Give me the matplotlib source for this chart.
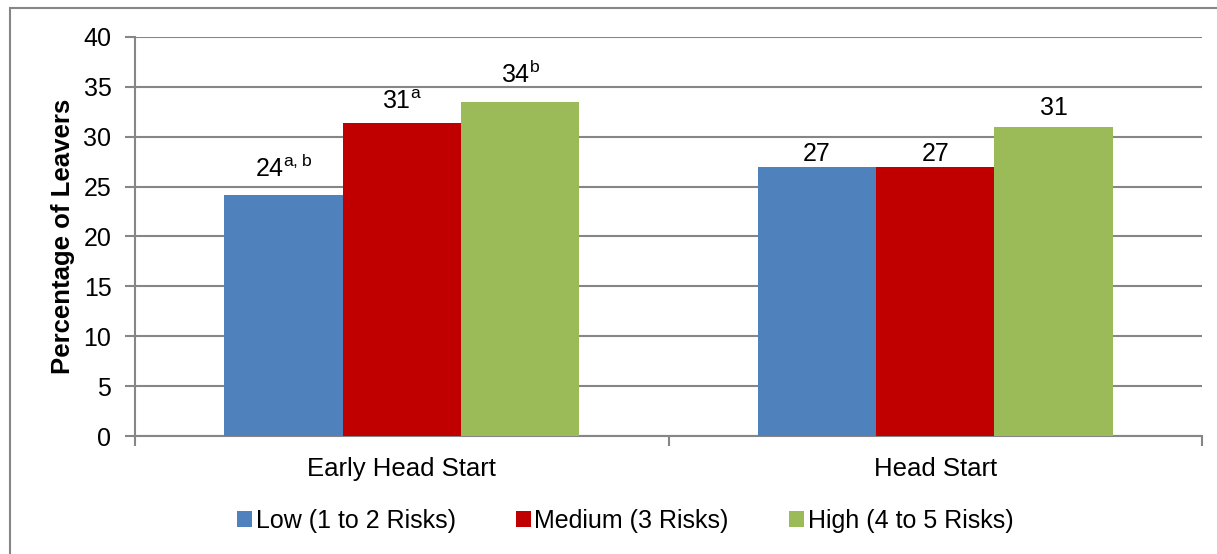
#!/usr/bin/env python3
import numpy as np
import matplotlib.pyplot as plt
from matplotlib.patches import Rectangle

plt.rcParams['font.family'] = ['Liberation Sans', 'DejaVu Sans']

categories = ['Early Head Start', 'Head Start']
series = ['Low (1 to 2 Risks)', 'Medium (3 Risks)', 'High (4 to 5 Risks)']
low = [24.2, 27.0]
medium = [31.4, 27.0]
high = [33.5, 31.0]
labels = [
    ['24$^{\\mathregular{a,b}}$', '27'],
    ['31$^{\\mathregular{a}}$', '27'],
    ['34$^{\\mathregular{b}}$', '31'],
]
# gap between bar top and label baseline, as placed in the original
label_gap = [[1.8, 0.6], [1.4, 0.6], [1.9, 1.2]]

colors = ['#4F81BD', '#C00000', '#9BBB59']
gray = '#868686'

fig = plt.figure(figsize=(12.17, 5.54), dpi=100)
ax = fig.add_axes([135/1217, 118/554, 1067/1217, 399/554])

# outer chart frame (left and top edges visible)
fig.add_artist(Rectangle((10/1217, -0.2), 1.5, 1.2 - 8/554,
                         transform=fig.transFigure, fill=False,
                         edgecolor=gray, linewidth=1.5))

x = np.arange(len(categories))
w = 0.222
for i, vals in enumerate([low, medium, high]):
    pos = x + (i - 1) * w
    ax.bar(pos, vals, width=w, color=colors[i], label=series[i], zorder=3)
    for p, v, t, g in zip(pos, vals, labels[i], label_gap[i]):
        ax.text(p, v + g, t, ha='center', va='baseline', fontsize=18)

ax.set_xlim(-0.5, 1.5)
ax.set_ylim(0, 40)
ax.set_yticks(range(0, 41, 5))
ax.yaxis.grid(True, color=gray, linewidth=1.5, zorder=0)
ax.tick_params(axis='y', labelsize=18, color=gray, length=7, width=1.5, pad=10)
ax.set_xticks(x)
ax.set_xticklabels(categories, fontsize=18.5)
ax.tick_params(axis='x', length=0, pad=15)
ax.set_xticks([-0.5, 0.5, 1.5], minor=True)
ax.tick_params(axis='x', which='minor', length=7, width=1.5, color=gray)

for s in ['top', 'right']:
    ax.spines[s].set_visible(False)
for s in ['left', 'bottom']:
    ax.spines[s].set_color(gray)
    ax.spines[s].set_linewidth(1.5)

ax.set_ylabel('Percentage of Leavers', fontsize=18.5, fontweight='bold', labelpad=6)

fig.legend(loc='center', bbox_to_anchor=(625/1217, 1 - 521/554), ncol=3,
           frameon=False, fontsize=18, handlelength=0.6, handleheight=0.6,
           handletextpad=0.15, columnspacing=2.4)

fig.savefig('out.png', dpi=100)
